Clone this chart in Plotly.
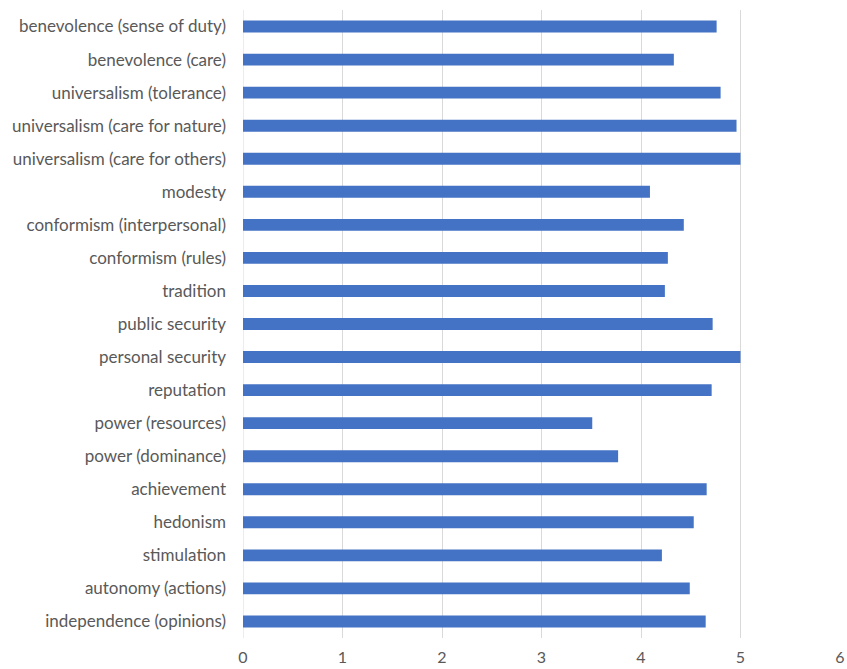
import plotly.graph_objects as go

categories = [
    "benevolence (sense of duty)",
    "benevolence (care)",
    "universalism (tolerance)",
    "universalism (care for nature)",
    "universalism (care for others)",
    "modesty",
    "conformism (interpersonal)",
    "conformism (rules)",
    "tradition",
    "public security",
    "personal security",
    "reputation",
    "power (resources)",
    "power (dominance)",
    "achievement",
    "hedonism",
    "stimulation",
    "autonomy (actions)",
    "independence (opinions)",
]
values = [4.76, 4.33, 4.80, 4.96, 5.00, 4.09, 4.43, 4.27, 4.24, 4.72, 5.00, 4.71,
          3.51, 3.77, 4.66, 4.53, 4.21, 4.49, 4.65]
x_ticks = [0, 1, 2, 3, 4, 5, 6]

fig = go.Figure(go.Bar(
    x=values, y=categories, orientation="h",
    marker=dict(color="#4472c4", line=dict(width=0)),
    width=0.36,
))

font = dict(family="Lato, Calibri, Arial", size=17, color="#595959")
xfont = dict(family="Lato, Calibri, Arial", size=16, color="#595959")
fig.update_layout(
    width=847, height=669,
    margin=dict(l=243, r=7, t=10, b=31, autoexpand=False),
    paper_bgcolor="white", plot_bgcolor="white",
    showlegend=False,
    font=font,
    bargap=0.64,
)
fig.update_xaxes(
    range=[0, 6], tickvals=x_ticks, showgrid=True, gridcolor="#d9d9d9", gridwidth=1,
    zeroline=False, showline=False, ticks="", tickfont=xfont, ticklabelstandoff=8,
    automargin=False, ticklabeloverflow="allow",
)
fig.update_yaxes(
    autorange="reversed", type="category", showgrid=False, showline=False,
    ticks="", tickfont=font, ticklabelstandoff=16, automargin=False,
)
fig.add_shape(type="line", xref="x", yref="paper", x0=0, x1=0, y0=0, y1=1,
              line=dict(color="#d9d9d9", width=1), layer="below")

fig.write_html("out.html")
